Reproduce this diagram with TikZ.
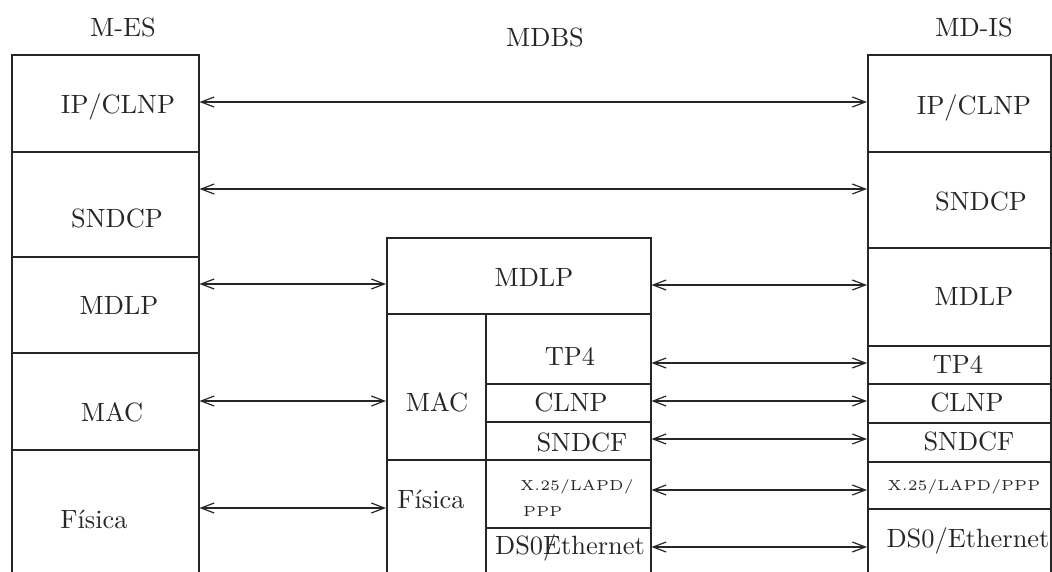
\documentclass[tikz,border=0pt]{standalone}
\usepackage{graphicx}
\usetikzlibrary{arrows.meta}
\newcommand{\Tx}[1]{\scalebox{2.64}{\fontsize{10}{12}\selectfont #1}}
\newcommand{\Ts}[1]{\scalebox{2.9}{\fontsize{5}{6}\selectfont #1}}
\newcommand{\bx}[5]{\node[box, minimum width={(#4-#2)*1pt}, minimum height={(#5-#3)*1pt}] (#1) at (#2,#3) {};}
\begin{document}
\begin{tikzpicture}[x=1pt, y=-1pt,
  box/.style={draw=black!85, line width=1.5pt, inner sep=0pt, anchor=north west},
  lbl/.style={inner sep=0pt, anchor=base, text=black!85},
  lbll/.style={inner sep=0pt, anchor=base west, text=black!85},
  arr/.style={{Straight Barb[length=13pt,width=10pt]}-{Straight Barb[length=13pt,width=10pt]}, line width=1.2pt, draw=black!85}]
\clip (0,0) rectangle (1052,571);
% left stack (M-ES)
\bx{lip}{11}{54}{198}{151}
\bx{lsn}{11}{151}{198}{256}
\bx{lmd}{11}{256}{198}{352}
\bx{lmac}{11}{352}{198}{449}
\bx{lfis}{11}{449}{198}{620}
% middle stack (MDBS)
\bx{mmd}{386}{237}{650}{313}
\bx{mmac}{386}{313}{485}{459}
\bx{mfis}{386}{459}{485}{620}
\bx{mtp}{485}{313}{650}{383}
\bx{mcl}{485}{383}{650}{421}
\bx{msf}{485}{421}{650}{459}
\bx{mx}{485}{459}{650}{527}
\bx{mds}{485}{527}{650}{620}
% right stack (MD-IS)
\bx{rip}{867}{54}{1050}{151}
\bx{rsn}{867}{151}{1050}{247}
\bx{rmd}{867}{247}{1050}{345}
\bx{rtp}{867}{345}{1050}{383}
\bx{rcl}{867}{383}{1050}{422}
\bx{rsf}{867}{422}{1050}{461}
\bx{rx}{867}{461}{1050}{508}
\bx{rds}{867}{508}{1050}{620}
% titles
\node[lbl] (tles) at (123,36) {\Tx{M-ES}};
\node[lbl] (tmdbs) at (545,46) {\Tx{MDBS}};
\node[lbl] (tmdis) at (974,36) {\Tx{MD-IS}};
% left labels
\node[lbl] (tlip) at (118,113) {\Tx{IP/CLNP}};
\node[lbl] (tlsn) at (117,227) {\Tx{SNDCP}};
\node[lbl] (tlmd) at (119,314) {\Tx{MDLP}};
\node[lbl] (tlmac) at (112,421) {\Tx{MAC}};
\node[lbl] (tlfis) at (94,528) {\Tx{Física}};
% middle labels
\node[lbl] (tmmd) at (534,286) {\Tx{MDLP}};
\node[lbl] (tmmac) at (437,411) {\Tx{MAC}};
\node[lbl] (tmfis) at (431,508) {\Tx{Física}};
\node[lbl] (tmtp) at (570,365) {\Tx{TP4}};
\node[lbl] (tmcl) at (571,411) {\Tx{CLNP}};
\node[lbl] (tmsf) at (582,451) {\Tx{SNDCF}};
\node[lbll] (tmx1) at (520,490) {\Ts{X.25/LAPD/}};
\node[lbll] (tmx2) at (523,516) {\Ts{PPP}};
\node[lbl] (tmds) at (570,554) {\Tx{DS0\rlap{/}Ethernet}};
% right labels
\node[lbl] (trip) at (974,114) {\Tx{IP/CLNP}};
\node[lbl] (trsn) at (981,210) {\Tx{SNDCP}};
\node[lbl] (trmd) at (974,305) {\Tx{MDLP}};
\node[lbl] (trtp) at (958,373) {\Tx{TP4}};
\node[lbl] (trcl) at (967,411) {\Tx{CLNP}};
\node[lbl] (trsf) at (969,450) {\Tx{SNDCF}};
\node[lbl] (trx) at (964,490) {\Ts{X.25/LAPD/PPP}};
\node[lbl] (trds) at (968,547) {\Tx{DS0/Ethernet}};
% connectors
\draw[arr] (lip.east |- 0,102) -- (rip.west |- 0,102);
\draw[arr] (lsn.east |- 0,189) -- (rsn.west |- 0,189);
\draw[arr] (lmd.east |- 0,284) -- (mmd.west |- 0,284);
\draw[arr] (mmd.east |- 0,285) -- (rmd.west |- 0,285);
\draw[arr] (lmac.east |- 0,401) -- (mmac.west |- 0,401);
\draw[arr] (lfis.east |- 0,508) -- (mfis.west |- 0,508);
\draw[arr] (mtp.east |- 0,363) -- (rtp.west |- 0,363);
\draw[arr] (mcl.east |- 0,401) -- (rcl.west |- 0,401);
\draw[arr] (msf.east |- 0,439) -- (rsf.west |- 0,439);
\draw[arr] (mx.east |- 0,490) -- (rx.west |- 0,490);
\draw[arr] (mds.east |- 0,547) -- (rds.west |- 0,547);
\end{tikzpicture}
\end{document}
